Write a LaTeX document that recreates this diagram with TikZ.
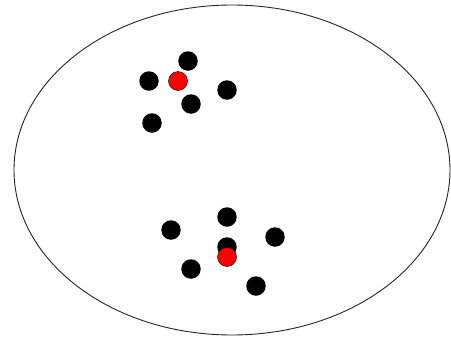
\documentclass[tikz,border=0pt]{standalone}
\begin{document}
\begin{tikzpicture}[x=1pt,y=-1pt,
  blk/.style={circle,fill=black,inner sep=0pt,minimum size=19.5pt},
  rdot/.style={circle,fill=red,draw=black,line width=0.4pt,inner sep=0pt,minimum size=19pt}]
\useasboundingbox (0,0) rectangle (451,338);
\fill[white] (0,0) rectangle (451,338);
\draw[line width=0.9pt,black!85] (232,170) ellipse [x radius=218, y radius=165];
% upper cluster
\node[blk] (a1) at (188,61) {};
\node[blk] (a2) at (149,81) {};
\node[blk] (a3) at (227,90) {};
\node[blk] (a4) at (191,104) {};
\node[blk] (a5) at (152,123) {};
\node[rdot] (ar) at (178,81) {};
% lower cluster
\node[blk] (b1) at (227,217) {};
\node[blk] (b2) at (171,230) {};
\node[blk] (b3) at (275,237) {};
\node[blk] (b4) at (227,247) {};
\node[blk] (b5) at (191,269) {};
\node[blk] (b6) at (256,286) {};
\node[rdot] (br) at (227,257) {};
\end{tikzpicture}
\end{document}
